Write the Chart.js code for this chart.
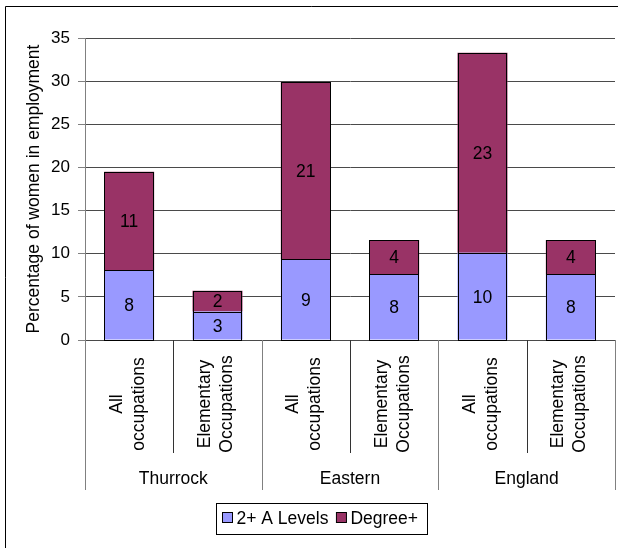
<!DOCTYPE html>
<html>
<head>
<meta charset="utf-8">
<title>Qualifications of women in employment</title>
<script src="https://cdn.jsdelivr.net/npm/chart.js@4/dist/chart.umd.min.js"></script>
<style>
  html, body { margin: 0; padding: 0; background: #fff; }
  #chart { display: block; }
</style>
</head>
<body>
<canvas id="chart" width="618" height="548"></canvas>
<script>
// Occupation categories (two-line labels), repeated within each region
const categories = [
  ['All', 'occupations'], ['Elementary', 'Occupations'],
  ['All', 'occupations'], ['Elementary', 'Occupations'],
  ['All', 'occupations'], ['Elementary', 'Occupations']
];
// Regions, each spanning two occupation categories
const regions = ['Thurrock', 'Eastern', 'England'];
// Percentage of women in employment by highest qualification
const aLevels = [8.1, 3.3, 9.4, 7.6, 10.1, 7.6];
const degreePlus = [11.4, 2.4, 20.5, 4.0, 23.2, 4.0];
const seriesNames = ['2+ A Levels', 'Degree+'];
// Value axis ticks
const yMin = 0, yMax = 35, yStep = 5;
const yTitle = 'Percentage of women in employment';

const FONT = '"Liberation Sans", Arial, Helvetica, sans-serif';
const TEXT_SIZE = 17.5;
const BLUE = '#9999FF';
const PLUM = '#993366';

// Crisp black outlines and rounded value labels for each stacked segment
const segmentLabels = {
  id: 'segmentLabels',
  afterDatasetsDraw(chart) {
    const ctx = chart.ctx;
    ctx.save();
    ctx.strokeStyle = '#000';
    ctx.lineWidth = 1;
    chart.data.datasets.forEach((ds, di) => {
      chart.getDatasetMeta(di).data.forEach(bar => {
        const p = bar.getProps(['x', 'y', 'base', 'width'], true);
        const x0 = Math.round(p.x - p.width / 2), x1 = Math.round(p.x + p.width / 2);
        const y0 = Math.round(Math.min(p.y, p.base)), y1 = Math.round(Math.max(p.y, p.base));
        ctx.strokeRect(x0 + 0.5, y0 + 0.5, x1 - x0 - 1, y1 - y0);
      });
    });
    ctx.font = `${TEXT_SIZE}px ${FONT}`;
    ctx.fillStyle = '#000';
    ctx.textAlign = 'center';
    ctx.textBaseline = 'middle';
    chart.data.datasets.forEach((ds, di) => {
      chart.getDatasetMeta(di).data.forEach((bar, i) => {
        const p = bar.getProps(['x', 'y', 'base'], true);
        ctx.fillText(String(Math.round(ds.data[i])), p.x, (p.y + p.base) / 2 + 1.5);
      });
    });
    ctx.restore();
  }
};

// Outer frame, two-level category axis and boxed legend
const frameAxisLegend = {
  id: 'frameAxisLegend',
  beforeDraw(chart) {
    const ctx = chart.ctx;
    ctx.save();
    ctx.fillStyle = '#fff';
    ctx.fillRect(0, 0, chart.width, chart.height);
    ctx.strokeStyle = '#000';
    ctx.lineWidth = 1;
    ctx.beginPath();
    ctx.moveTo(5.5, chart.height);
    ctx.lineTo(5.5, 6.5);
    ctx.lineTo(chart.width, 6.5);
    ctx.stroke();
    ctx.restore();
  },
  afterDraw(chart) {
    const ctx = chart.ctx;
    const x = chart.scales.x;
    const bottom = chart.chartArea.bottom;
    const step = x.getPixelForValue(1) - x.getPixelForValue(0);
    const edge = i => x.getPixelForValue(i) - step / 2;

    ctx.save();
    // separators: short between occupations, long between regions
    ctx.lineWidth = 1;
    for (let i = 0; i <= categories.length; i++) {
      const px = Math.round(edge(i)) + 0.5;
      const isRegionEdge = i % 2 === 0;
      ctx.strokeStyle = isRegionEdge ? '#808080' : '#333';
      ctx.beginPath();
      ctx.moveTo(px, bottom);
      ctx.lineTo(px, bottom + (isRegionEdge ? 150 : 113));
      ctx.stroke();
    }

    // rotated occupation labels
    ctx.font = `${TEXT_SIZE}px ${FONT}`;
    ctx.fillStyle = '#000';
    ctx.textAlign = 'center';
    ctx.textBaseline = 'alphabetic';
    categories.forEach((lines, i) => {
      ctx.save();
      ctx.translate(x.getPixelForValue(i), bottom + 64);
      ctx.rotate(-Math.PI / 2);
      ctx.fillText(lines[0], 0, -7.5);
      ctx.fillText(lines[1], 0, 14.5);
      ctx.restore();
    });

    // region labels
    ctx.textBaseline = 'middle';
    regions.forEach((name, g) => {
      const cx = (edge(2 * g) + edge(2 * g + 2)) / 2;
      ctx.fillText(name, cx, bottom + 139);
    });

    // legend
    const sw = 10, padL = 6, gap = 4, between = 8, padR = 9;
    const widths = seriesNames.map(s => ctx.measureText(s).width);
    const total = padL + sw + gap + widths[0] + between + sw + gap + widths[1] + padR;
    const boxL = Math.round(321 - total / 2) + 0.5;
    const boxT = 503.5, boxH = 31;
    ctx.strokeStyle = '#000';
    ctx.strokeRect(boxL, boxT, Math.round(total), boxH);
    let cx = boxL + padL;
    const colors = [BLUE, PLUM];
    ctx.textAlign = 'left';
    seriesNames.forEach((s, k) => {
      ctx.fillStyle = colors[k];
      ctx.fillRect(cx, 512.5, sw, sw);
      ctx.strokeStyle = '#000';
      ctx.strokeRect(cx, 512.5, sw, sw);
      cx += sw + gap;
      ctx.fillStyle = '#000';
      ctx.fillText(s, cx, boxT + boxH / 2);
      cx += widths[k] + between;
    });
    ctx.restore();
  }
};

new Chart(document.getElementById('chart'), {
  type: 'bar',
  data: {
    labels: categories.map(l => l.join(' ')),
    datasets: [
      { label: seriesNames[0], data: aLevels, backgroundColor: BLUE, borderWidth: 0 },
      { label: seriesNames[1], data: degreePlus, backgroundColor: PLUM, borderWidth: 0 }
    ]
  },
  options: {
    responsive: false,
    devicePixelRatio: 1,
    animation: false,
    events: [],
    layout: { padding: { left: 5, top: 38, right: 3, bottom: 208 } },
    datasets: { bar: { categoryPercentage: 1, barPercentage: 0.566 } },
    plugins: { legend: { display: false }, tooltip: { enabled: false }, title: { display: false } },
    scales: {
      x: {
        stacked: true,
        offset: true,
        grid: { display: false, drawTicks: false },
        ticks: { display: false },
        border: { display: false },
        afterFit(scale) { scale.height = 0; }
      },
      y: {
        stacked: true,
        min: yMin,
        max: yMax,
        ticks: { stepSize: yStep, color: '#000', padding: 8,
                 font: { family: FONT, size: 17 } },
        grid: { color: '#4a4a4a', tickLength: 7, tickColor: '#808080' },
        border: { color: '#808080' },
        title: { display: true, text: yTitle, color: '#000',
                 font: { family: FONT, size: TEXT_SIZE },
                 padding: { top: 19, bottom: 0 } },
        afterFit(scale) { scale.width = 80; }
      }
    }
  },
  plugins: [segmentLabels, frameAxisLegend]
});
</script>
</body>
</html>
